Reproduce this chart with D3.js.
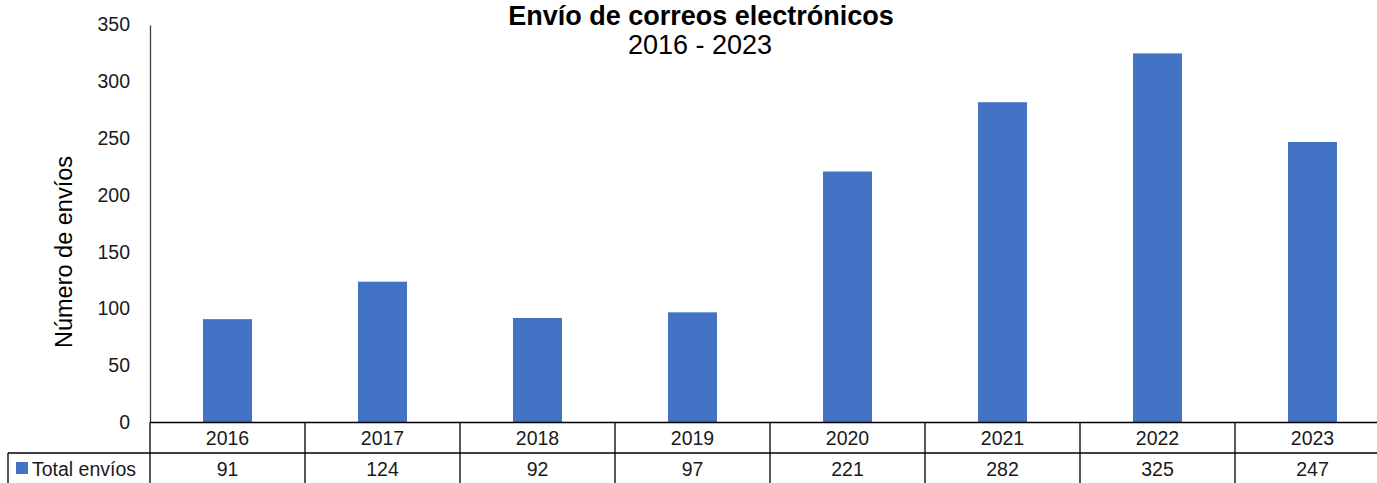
<!DOCTYPE html>
<html><head><meta charset="utf-8">
<script src="https://cdn.jsdelivr.net/npm/d3@7"></script>
<style>body{margin:0;background:#fff}svg{display:block;font-family:"Liberation Sans",Arial,Helvetica,sans-serif}</style>
</head><body>
<svg id="c" width="1377" height="483"></svg>
<script>
const categories = ["2016","2017","2018","2019","2020","2021","2022","2023"];
const values = [91,124,92,97,221,282,325,247];
const yTicks = [0,50,100,150,200,250,300,350];
const seriesName = "Total envíos";
const title = "Envío de correos electrónicos";
const subtitle = "2016 - 2023";
const yLabel = "Número de envíos";

(function(){
const svg = d3.select("#c");
const left = 150, colW = 155, plotTop = 25, base = 422.5;
const x = d3.scaleBand().domain(categories).range([left, left + colW*categories.length]).paddingInner(0.684).paddingOuter(0.342);
const xc = d3.scaleBand().domain(categories).range([left, left + colW*categories.length]);
const y = d3.scaleLinear().domain([0,350]).range([base, plotTop]);
const blue = "#4472C4";
const fs = 19.5;

// bars
svg.append("g").selectAll("rect").data(values).join("rect")
  .attr("x",(d,i)=>x(categories[i])).attr("width",x.bandwidth())
  .attr("y",d=>y(d)).attr("height",d=>base-y(d)).attr("fill",blue);

// y axis
const yAxis = d3.axisLeft(y).tickValues(yTicks).tickSize(0).tickPadding(20);
const ga = svg.append("g").attr("transform",`translate(${left},0)`).call(yAxis);
ga.select(".domain").attr("stroke","#404040").attr("stroke-width",1.3);
ga.selectAll("text").attr("font-size",fs).attr("fill","#1a1a1a").attr("font-family","Liberation Sans, Arial, sans-serif").attr("dy","0.3em");

// table
const right = left + colW*categories.length;
const tb = svg.append("g").attr("stroke","#000").attr("stroke-width",1.3);
tb.append("line").attr("x1",left).attr("x2",right).attr("y1",base).attr("y2",base);
tb.append("line").attr("x1",8).attr("x2",right).attr("y1",453).attr("y2",453);
tb.append("line").attr("x1",8).attr("x2",8).attr("y1",453).attr("y2",490);
tb.selectAll(".v").data(categories).join("line")
  .attr("x1",d=>xc(d)).attr("x2",d=>xc(d)).attr("y1",base).attr("y2",490);
const tt = svg.append("g").attr("font-size",fs).attr("fill","#1a1a1a").attr("text-anchor","middle");
tt.selectAll(".yr").data(categories).join("text").attr("x",d=>xc(d)+colW/2).attr("y",445).text(d=>d);
tt.selectAll(".vl").data(values).join("text").attr("x",(d,i)=>xc(categories[i])+colW/2).attr("y",476).text(d=>d);

// legend
svg.append("rect").attr("x",16).attr("y",462).attr("width",12).attr("height",12).attr("fill",blue);
svg.append("text").attr("x",32).attr("y",476).attr("font-size",fs).attr("fill","#1a1a1a").text(seriesName);

// titles
svg.append("text").attr("x",701).attr("y",25).attr("text-anchor","middle").attr("font-size",27).attr("font-weight","bold").attr("fill","#000").text(title);
svg.append("text").attr("x",700).attr("y",54).attr("text-anchor","middle").attr("font-size",27).attr("fill","#000").text(subtitle);
svg.append("text").attr("transform","translate(72,252) rotate(-90)").attr("text-anchor","middle").attr("font-size",23.5).attr("fill","#000").text(yLabel);
})();
</script>
</body></html>
